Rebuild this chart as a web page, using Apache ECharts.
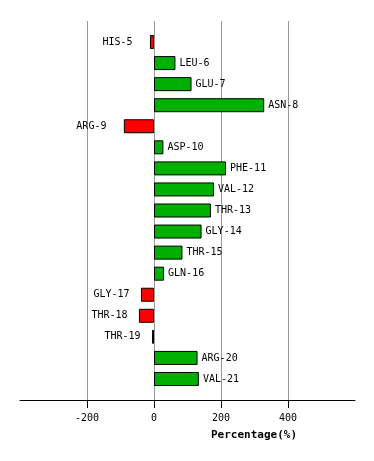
<!DOCTYPE html>
<html><head><meta charset="utf-8">
<script src="https://cdn.jsdelivr.net/npm/echarts@6/dist/echarts.min.js"></script>
<style>html,body{margin:0;padding:0;background:#fff}#c{width:374px;height:461px}</style>
</head><body><div id="c"></div>
<script>
var residues = ['HIS-5','LEU-6','GLU-7','ASN-8','ARG-9','ASP-10','PHE-11','VAL-12','THR-13','GLY-14','THR-15','GLN-16','GLY-17','THR-18','THR-19','ARG-20','VAL-21'];
var percentages = [-12, 64, 112, 329, -90, 28, 215, 179, 170, 142, 85, 30, -39, -45, -6, 130, 134];
var tickValues = [-200, 0, 200, 400];
var axisTitle = 'Percentage(%)';

var FONT = '"DejaVu Sans Mono", monospace';
var chart = echarts.init(document.getElementById('c'), null, {renderer: 'canvas'});
var barData = percentages.map(function (v, i) {
  var pos = v >= 0;
  var w = echarts.format.getTextRect ? null : null;
  var textW = residues[i].length * 6.02;
  return {
    value: v,
    itemStyle: {color: pos ? '#00b000' : '#ff0000'},
    label: {position: pos ? 'right' : 'left', distance: pos ? 4 : Math.max(2, 47.5 - textW)}
  };
});
chart.setOption({
  animation: false,
  grid: [
    {left: 20, width: 335, top: 21, height: 379},
    {left: 20, width: 335, top: 31.5, height: 358}
  ],
  xAxis: [
    {gridIndex: 0, type: 'value', min: -400, max: 600, interval: 200,
     axisLine: {show: true, lineStyle: {color: '#000', width: 1}},
     axisTick: {show: true, length: 8, inside: false, customValues: tickValues, lineStyle: {color: '#000'}},
     axisLabel: {customValues: tickValues, margin: 13, color: '#000', fontFamily: FONT, fontSize: 10},
     splitLine: {show: true, lineStyle: {color: '#999', width: 1}}
    },
    {gridIndex: 1, type: 'value', min: -400, max: 600, show: false, splitLine: {show: false}}
  ],
  yAxis: [
    {gridIndex: 0, type: 'value', min: 0, max: 1, show: false, splitLine: {show: false}},
    {gridIndex: 1, type: 'category', data: residues, inverse: true, show: false}
  ],
  series: [{
    type: 'bar', xAxisIndex: 1, yAxisIndex: 1, barWidth: 14,
    data: barData,
    itemStyle: {borderColor: '#000', borderWidth: 1},
    label: {show: true, formatter: function (p) { return residues[p.dataIndex]; },
            color: '#000', fontFamily: FONT, fontSize: 10}
  }],
  graphic: [{
    type: 'text', x: 254, y: 435,
    style: {text: axisTitle, fill: '#000', font: 'bold 11px ' + FONT, textAlign: 'center', textVerticalAlign: 'middle'}
  }]
});
</script></body></html>
